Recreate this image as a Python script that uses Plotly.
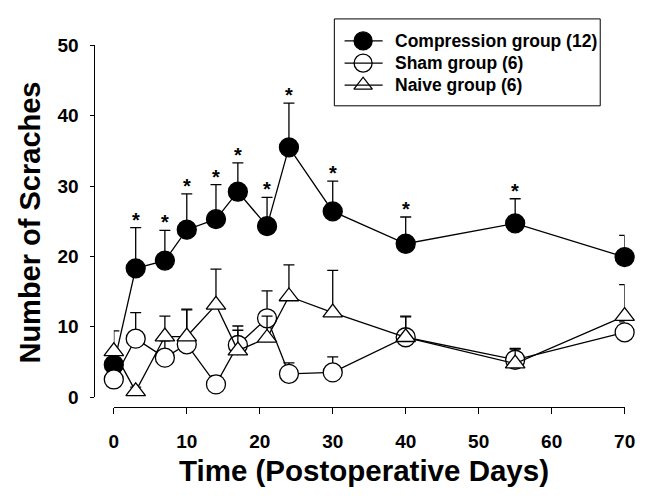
import plotly.graph_objects as go

# ---- data ----
days = [0, 3, 7, 10, 14, 17, 21, 24, 30, 40, 55, 70]

compression = [4.6, 18.3, 19.4, 23.8, 25.3, 29.2, 24.3, 35.5, 26.4, 21.8, 24.7, 19.9]
compression_err = [1.0, 5.8, 4.3, 5.1, 4.9, 4.1, 4.1, 6.3, 4.3, 3.8, 3.5, 3.1]

sham = [2.5, 8.3, 5.6, 7.5, 1.8, 7.4, 11.2, 3.3, 3.5, 8.5, 5.3, 9.2]
sham_err = [1.0, 3.7, 2.4, 4.9, 1.2, 2.1, 3.9, 1.55, 2.2, 2.9, 1.6, 1.5]

naive = [6.5, 0.8, 8.6, 8.6, 13.1, 6.6, 8.4, 14.3, 12.0, 8.5, 4.75, 11.5]
naive_err = [2.9, 0.6, 2.9, 3.9, 5.1, 3.5, 3.1, 4.5, 6.0, 3.0, 2.05, 4.5]

# days on which the compression group differs significantly (asterisks)
star_days = [3, 7, 10, 14, 17, 21, 24, 30, 40, 55]

legend_names = ["Compression group (12)", "Sham group (6)", "Naive group (6)"]

x_ticks = [0, 10, 20, 30, 40, 50, 60, 70]
y_ticks = [0, 10, 20, 30, 40, 50]

FONT = "Liberation Sans, Arial, sans-serif"
W, H = 661, 500

styles = {
    "Compression group (12)": dict(symbol="circle", size=19, fill="black"),
    "Sham group (6)": dict(symbol="circle", size=19, fill="white"),
    "Naive group (6)": dict(symbol="triangle-up", size=17, fill="white"),
}

fig = go.Figure()

series = [
    ("Compression group (12)", compression, compression_err),
    ("Sham group (6)", sham, sham_err),
    ("Naive group (6)", naive, naive_err),
]
for name, vals, errs in series:
    st = styles[name]
    fig.add_trace(go.Scatter(
        x=days, y=vals, mode="lines+markers", name=name,
        line=dict(color="black", width=1.3),
        marker=dict(symbol=st["symbol"], size=st["size"], color=st["fill"],
                    line=dict(color="black", width=1.3)),
        error_y=dict(type="data", symmetric=False, array=errs,
                     arrayminus=[0] * len(errs), color="black",
                     thickness=1.3, width=5.5),
        cliponaxis=False, showlegend=False,
    ))

# asterisks above the compression error bars
for d in star_days:
    i = days.index(d)
    fig.add_annotation(x=d, y=compression[i] + compression_err[i], text="*",
                       showarrow=False, yanchor="middle", yshift=8,
                       font=dict(family=FONT, size=20, color="black", weight="bold"))

# ---- custom legend on a pixel-space overlay axis ----
leg_rows = [32.3, 55.5, 78.5]
for row, name in zip(leg_rows, legend_names):
    st = styles[name]
    fig.add_shape(type="line", xref="x2", yref="y2", x0=348, x1=387, y0=row, y1=row,
                  line=dict(color="black", width=1.3))
    fig.add_trace(go.Scatter(
        x=[367], y=[row], xaxis="x2", yaxis="y2", mode="markers",
        marker=dict(symbol=st["symbol"], size=st["size"] - 1, color=st["fill"],
                    line=dict(color="black", width=1.3)),
        showlegend=False, hoverinfo="skip", cliponaxis=False,
    ))
    fig.add_annotation(xref="x2", yref="y2", x=398, y=row, text=name, showarrow=False,
                       xanchor="left", yanchor="middle",
                       font=dict(family=FONT, size=17.5, color="black", weight="bold"))
fig.add_shape(type="rect", xref="x2", yref="y2", x0=337.5, x1=610, y0=9.3, y1=100,
              line=dict(color="black", width=1))

# axis titles
fig.add_annotation(xref="paper", yref="paper", x=368 / W, y=1 - 481 / H,
                   text="Time (Postoperative Days)", showarrow=False,
                   xanchor="center", yanchor="middle",
                   font=dict(family=FONT, size=29.5, color="black", weight="bold"))
fig.add_annotation(xref="paper", yref="paper", x=25.5 / W, y=1 - 222 / H,
                   text="Number of Scraches", showarrow=False, textangle=-90,
                   xanchor="center", yanchor="middle",
                   font=dict(family=FONT, size=29, color="black", weight="bold"))

tickfont = dict(family=FONT, size=19, color="black", weight="bold")
fig.update_layout(
    width=W, height=H, margin=dict(l=0, r=0, t=0, b=0),
    paper_bgcolor="white", plot_bgcolor="rgba(0,0,0,0)",
    xaxis=dict(domain=[111.5 / W, 635 / W], range=[0, 70], anchor="free",
               position=1 - 414.3 / H, tickvals=x_ticks, ticks="outside",
               ticklen=6, tickwidth=1, tickcolor="black", showline=True,
               linecolor="black", linewidth=1, showgrid=False, zeroline=False,
               tickfont=tickfont, ticklabelstandoff=11),
    yaxis=dict(domain=[1 - 404 / H, 1 - 37 / H], range=[0, 50], anchor="free",
               position=91.7 / W, tickvals=y_ticks, ticks="outside",
               ticklen=4, tickwidth=1, tickcolor="black", showline=True,
               linecolor="black", linewidth=1, showgrid=False, zeroline=False,
               tickfont=tickfont, ticklabelstandoff=8),
    xaxis2=dict(domain=[0, 1], range=[0, W], visible=False, anchor="y2"),
    yaxis2=dict(domain=[0, 1], range=[H, 0], visible=False, anchor="x2"),
    showlegend=False,
)

fig.write_html("out.html")
